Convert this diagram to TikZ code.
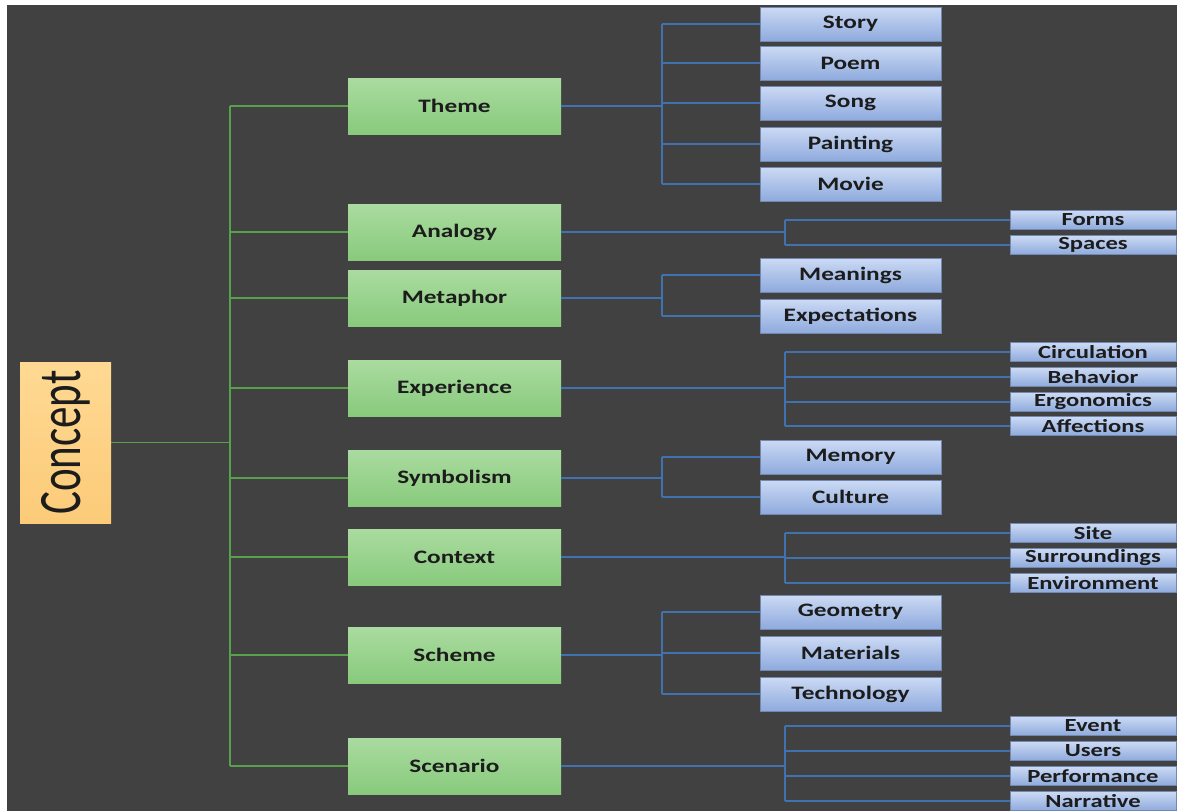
\documentclass[tikz,border=0pt]{standalone}
\usepackage{fontspec}
\setmainfont{Carlito}
\newfontfamily\labfont[FakeStretch=1.33]{Carlito}
\newfontfamily\confont{Carlito}
\definecolor{bgc}{HTML}{414141}
\definecolor{gtop}{HTML}{AADBA0}
\definecolor{gbot}{HTML}{88CA7C}
\definecolor{btop}{HTML}{CCDAF4}
\definecolor{bbot}{HTML}{8EAADD}
\definecolor{otop}{HTML}{FFD993}
\definecolor{obot}{HTML}{FBCB78}
\definecolor{gln}{HTML}{58A04C}
\definecolor{bln}{HTML}{3F72AE}
\definecolor{txt}{HTML}{1C1C1C}
\begin{document}
\begin{tikzpicture}[x=1pt,y=-1pt,
  gbox/.style={rectangle, top color=gtop, bottom color=gbot, draw=none,
    minimum width=213pt, minimum height=56pt, inner sep=0pt,
    font=\labfont\bfseries\fontsize{19}{19}\selectfont, text=txt},
  mbox/.style={rectangle, top color=btop, bottom color=bbot, draw=bbot!80!black, line width=0.5pt,
    minimum width=181pt, minimum height=34pt, inner sep=0pt,
    font=\labfont\bfseries\fontsize{19}{19}\selectfont, text=txt},
  sbox/.style={rectangle, top color=btop, bottom color=bbot, draw=bbot!80!black, line width=0.5pt,
    minimum width=166pt, minimum height=19pt, inner sep=0pt,
    font=\labfont\bfseries\fontsize{18.5}{18.5}\selectfont, text=txt},
  gline/.style={draw=gln, line width=1.8pt},
  bline/.style={draw=bln, line width=1.4pt}]
\useasboundingbox (0,0) rectangle (1177,811);
\fill[white] (0,0) rectangle (1177,811);
\fill[bgc] (7,5) rectangle (1177,811);

% root
\node[rectangle, top color=otop, bottom color=obot, minimum width=91pt, minimum height=161pt, inner sep=0pt, text=txt]
  (concept) at (65.5,442.5) {\rotatebox{90}{\scalebox{1}[1.4]{\confont\fontsize{43}{43}\selectfont Concept}}};

% green level
\node[gbox] (theme) at (454.5,106) {Theme};
\node[gbox] (analogy) at (454.5,232) {Analogy};
\node[gbox] (metaphor) at (454.5,298) {Metaphor};
\node[gbox] (experience) at (454.5,388) {Experience};
\node[gbox] (symbolism) at (454.5,478) {Symbolism};
\node[gbox] (context) at (454.5,557) {Context};
\node[gbox] (scheme) at (454.5,655) {Scheme};
\node[gbox] (scenario) at (454.5,766) {Scenario};

% medium blue
\node[mbox] (story) at (850.5,24) {Story};
\node[mbox] (poem) at (850.5,63) {Poem};
\node[mbox] (song) at (850.5,103) {Song};
\node[mbox] (painting) at (850.5,144) {Painting};
\node[mbox] (movie) at (850.5,184) {Movie};
\node[mbox] (meanings) at (850.5,275) {Meanings};
\node[mbox] (expectations) at (850.5,316) {Expectations};
\node[mbox] (memory) at (850.5,457) {Memory};
\node[mbox] (culture) at (850.5,497) {Culture};
\node[mbox] (geometry) at (850.5,612) {Geometry};
\node[mbox] (materials) at (850.5,653) {Materials};
\node[mbox] (technology) at (850.5,694) {Technology};

% small blue
\node[sbox] (forms) at (1093,220) {Forms};
\node[sbox] (spaces) at (1093,245) {Spaces};
\node[sbox] (circulation) at (1093,352) {Circulation};
\node[sbox] (behavior) at (1093,377) {Behavior};
\node[sbox] (ergonomics) at (1093,402) {Ergonomics};
\node[sbox] (affections) at (1093,426) {Affections};
\node[sbox] (site) at (1093,533) {Site};
\node[sbox] (surroundings) at (1093,558) {Surroundings};
\node[sbox] (environment) at (1093,583) {Environment};
\node[sbox] (event) at (1093,726) {Event};
\node[sbox] (users) at (1093,751) {Users};
\node[sbox] (performance) at (1093,776) {Performance};
\node[sbox] (narrative) at (1093,801) {Narrative};

% junction x positions
\coordinate (tk) at (230,0);
\coordinate (bm) at (662,0);
\coordinate (bs) at (785,0);

% green tree
\draw[gline] (concept.east) -- (concept.east -| tk);
\draw[gline] (tk |- theme.west) -- (tk |- scenario.west);
\foreach \n in {theme,analogy,metaphor,experience,symbolism,context,scheme,scenario}
  \draw[gline] (tk |- \n.west) -- (\n.west);

% blue brackets to medium boxes
\draw[bline] (theme.east) -- (theme.east -| bm);
\draw[bline] (bm |- story.west) -- (bm |- movie.west);
\foreach \n in {story,poem,song,painting,movie}
  \draw[bline] (bm |- \n.west) -- (\n.west);

\draw[bline] (metaphor.east) -- (metaphor.east -| bm);
\draw[bline] (bm |- meanings.west) -- (bm |- expectations.west);
\foreach \n in {meanings,expectations}
  \draw[bline] (bm |- \n.west) -- (\n.west);

\draw[bline] (symbolism.east) -- (symbolism.east -| bm);
\draw[bline] (bm |- memory.west) -- (bm |- culture.west);
\foreach \n in {memory,culture}
  \draw[bline] (bm |- \n.west) -- (\n.west);

\draw[bline] (scheme.east) -- (scheme.east -| bm);
\draw[bline] (bm |- geometry.west) -- (bm |- technology.west);
\foreach \n in {geometry,materials,technology}
  \draw[bline] (bm |- \n.west) -- (\n.west);

% blue brackets to small boxes
\draw[bline] (analogy.east) -- (analogy.east -| bs);
\draw[bline] (bs |- forms.west) -- (bs |- spaces.west);
\foreach \n in {forms,spaces}
  \draw[bline] (bs |- \n.west) -- (\n.west);

\draw[bline] (experience.east) -- (experience.east -| bs);
\draw[bline] (bs |- circulation.west) -- (bs |- affections.west);
\foreach \n in {circulation,behavior,ergonomics,affections}
  \draw[bline] (bs |- \n.west) -- (\n.west);

\draw[bline] (context.east) -- (context.east -| bs);
\draw[bline] (bs |- site.west) -- (bs |- environment.west);
\foreach \n in {site,surroundings,environment}
  \draw[bline] (bs |- \n.west) -- (\n.west);

\draw[bline] (scenario.east) -- (scenario.east -| bs);
\draw[bline] (bs |- event.west) -- (bs |- narrative.west);
\foreach \n in {event,users,performance,narrative}
  \draw[bline] (bs |- \n.west) -- (\n.west);
\end{tikzpicture}
\end{document}
